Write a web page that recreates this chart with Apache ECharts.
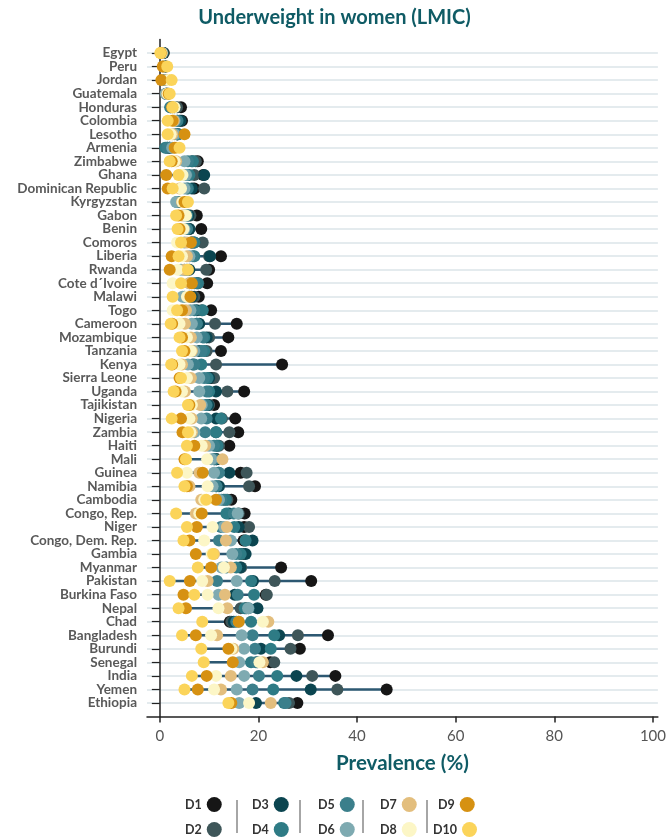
<!DOCTYPE html>
<html>
<head>
<meta charset="utf-8">
<script src="https://cdn.jsdelivr.net/npm/echarts@6/dist/echarts.min.js"></script>
<style>html,body{margin:0;padding:0;background:#fff}#c{width:669px;height:837px}</style>
</head>
<body>
<div id="c"></div>
<script>
const countries = ["Egypt","Peru","Jordan","Guatemala","Honduras","Colombia","Lesotho","Armenia","Zimbabwe","Ghana","Dominican Republic","Kyrgyzstan","Gabon","Benin","Comoros","Liberia","Rwanda","Cote d´Ivoire","Malawi","Togo","Cameroon","Mozambique","Tanzania","Kenya","Sierra Leone","Uganda","Tajikistan","Nigeria","Zambia","Haiti","Mali","Guinea","Namibia","Cambodia","Congo, Rep.","Niger","Congo, Dem. Rep.","Gambia","Myanmar","Pakistan","Burkina Faso","Nepal","Chad","Bangladesh","Burundi","Senegal","India","Yemen","Ethiopia"];
const deciles = ["D1","D2","D3","D4","D5","D6","D7","D8","D9","D10"];
const xTicks = [0,20,40,60,80,100];

const D1  = [0.8,1.2,1.5,1.6,4.3,4.5,3.5,2.0,7.7,8.8,7.0,4.0,7.5,8.4,6.5,12.4,10.0,9.6,7.9,10.4,15.6,13.9,12.4,24.8,10.5,17.1,11.0,15.3,15.9,14.1,11.5,16.4,19.3,14.5,17.2,17.1,17.0,16.5,24.6,30.7,21.5,17.5,14.2,34.1,28.4,22.4,35.6,46.0,27.9];
const D2  = [0.7,1.0,1.5,1.5,3.5,4.0,3.5,2.0,7.3,7.0,9.0,4.0,6.2,6.0,8.7,10.0,9.4,7.8,7.0,8.5,11.2,10.0,9.5,11.4,11.0,13.7,10.0,12.6,14.1,12.0,11.2,17.6,18.1,13.7,16.0,18.1,17.4,17.0,16.5,23.3,21.7,16.4,14.5,28.0,26.5,23.2,30.9,36.0,26.2];
const D3  = [0.6,1.0,1.2,1.3,3.0,4.2,3.6,1.5,6.5,9.0,6.5,3.8,5.8,6.0,7.0,10.2,6.0,7.5,6.5,7.5,8.0,9.5,8.0,6.7,10.0,11.4,9.8,11.4,11.4,11.5,11.5,14.1,12.0,13.0,14.0,16.0,18.8,17.4,16.3,18.9,15.2,19.8,15.0,24.2,20.5,19.8,27.7,30.6,19.5];
const D4  = [0.5,0.9,1.2,1.3,2.1,3.6,3.8,1.1,6.7,6.0,5.7,3.5,5.5,5.5,7.0,7.0,5.5,7.7,6.0,8.7,7.5,9.0,9.0,8.4,9.7,10.0,9.5,12.4,11.4,11.7,11.0,11.9,11.4,13.4,13.5,15.1,17.4,16.4,15.5,18.5,19.1,17.2,18.5,23.2,22.5,18.5,23.8,23.0,25.2];
const D5  = [0.5,0.9,1.0,1.3,2.2,3.5,3.5,1.5,5.7,5.5,5.5,3.5,5.5,5.5,6.5,6.7,5.0,7.0,5.0,7.0,7.5,8.7,8.5,7.0,9.0,9.5,9.4,9.5,9.2,11.0,11.0,12.0,11.5,12.5,15.0,12.4,12.0,15.5,13.5,11.6,15.8,18.0,15.5,18.8,19.3,19.5,20.1,18.8,25.5];
const D6  = [0.4,0.8,1.0,1.2,2.5,3.0,3.0,2.5,5.0,5.3,5.0,3.3,5.0,5.0,5.0,6.0,4.3,6.0,4.6,6.2,6.5,7.5,7.0,5.7,8.0,8.0,8.5,8.4,7.0,10.0,10.5,11.0,10.7,12.0,15.8,13.0,14.4,14.7,12.5,15.6,11.9,17.9,16.0,16.6,17.1,16.1,17.1,15.6,16.1];
const D7  = [0.4,0.8,1.5,1.5,2.8,2.8,2.5,3.3,3.3,4.5,4.0,4.5,4.5,4.5,5.5,5.5,5.0,6.0,5.8,5.3,5.1,6.3,6.5,4.5,6.3,5.1,8.2,6.5,6.5,9.2,12.7,8.0,6.0,8.4,7.3,13.6,13.4,11.0,14.4,9.7,13.2,13.7,22.0,11.6,14.9,20.9,14.4,12.4,22.5];
const D8  = [0.3,0.7,1.8,1.6,3.0,2.5,2.2,3.5,3.0,4.6,4.3,4.6,5.3,4.8,3.5,4.5,3.6,2.6,5.5,2.6,4.0,5.5,6.3,4.0,5.5,4.5,6.5,6.0,6.2,8.5,9.6,5.5,9.7,9.0,8.0,10.7,9.0,10.5,13.0,8.6,9.7,11.9,20.9,10.4,14.5,20.2,11.4,11.0,18.1];
const D9  = [0.2,0.6,0.3,1.8,2.5,2.6,5.0,3.0,2.4,1.3,1.6,5.0,3.8,4.0,6.3,2.4,2.0,6.5,6.2,4.5,2.5,4.5,5.0,2.5,4.0,3.2,6.0,4.3,4.6,7.0,5.0,8.7,5.5,11.4,8.5,7.5,6.0,7.3,10.4,6.1,4.8,5.3,16.0,7.3,13.9,14.8,9.5,7.7,14.5];
const D10 = [0.1,1.5,2.4,2.0,2.6,1.6,1.6,4.0,2.0,3.8,2.6,5.7,3.3,3.6,4.3,3.8,5.7,4.3,2.6,3.5,2.2,4.0,4.5,2.3,4.3,2.8,5.7,2.4,5.7,5.5,5.3,3.5,5.0,9.4,3.3,5.5,4.8,10.8,7.7,2.0,7.0,3.8,8.6,4.5,8.4,8.9,6.5,5.0,13.9];

const values = [D1,D2,D3,D4,D5,D6,D7,D8,D9,D10];
const colors = ["#161616","#3e5659","#0b4550","#2e7b85","#3b7f8b","#7eaab1","#e3be7d","#fcf6c6","#d69112","#fbd45a"];

const yData = [" "].concat(countries).concat(["  "]);
const isReal = v => v.trim() !== "";

const rangeData = countries.map((c, i) => {
  const vs = values.map(a => a[i]);
  return [Math.min(...vs), Math.max(...vs), c];
});

const series = [{
  type: "custom",
  name: "range",
  data: rangeData,
  encode: { x: [0, 1], y: 2 },
  renderItem: function (params, api) {
    const p1 = api.coord([api.value(0), api.value(2)]);
    const p2 = api.coord([api.value(1), api.value(2)]);
    return { type: "line", shape: { x1: p1[0], y1: p1[1], x2: p2[0], y2: p2[1] },
             style: { stroke: "#2d5872", lineWidth: 2.5 } };
  },
  z: 1
}];
deciles.forEach((d, k) => {
  series.push({
    type: "scatter",
    name: d,
    data: values[k].map((v, i) => [v, countries[i]]),
    symbol: "circle",
    symbolSize: 12,
    itemStyle: { color: colors[k], opacity: 1 },
    z: 2 + k
  });
});

const legendPos = [
  [185, 797], [185, 822], [252, 797], [252, 822], [318, 797],
  [318, 822], [380, 797], [380, 822], [438, 797], [433, 822]
];
const legends = deciles.map((d, k) => ({
  data: [d],
  left: legendPos[k][0], top: legendPos[k][1],
  padding: 0,
  align: "right",
  icon: "circle",
  itemWidth: 15, itemHeight: 15,
  selectedMode: false,
  textStyle: { fontFamily: "Lato", fontWeight: "bold", fontSize: 12.5, color: "#333" }
}));

const sepX = [237, 300, 363, 427];
const graphics = sepX.map(x => ({
  type: "line", shape: { x1: x, y1: 800, x2: x, y2: 833 },
  style: { stroke: "#888", lineWidth: 1.5 }
}));

const chart = echarts.init(document.getElementById("c"));
chart.setOption({
  backgroundColor: "#fff",
  animation: false,
  title: {
    text: "Underweight in women (LMIC)",
    left: "center", top: 3,
    textStyle: { fontFamily: "Lato", fontWeight: "bold", fontSize: 20, color: "#0f5b65" }
  },
  grid: { left: 147, right: 9, top: 39.5, bottom: 120.5, containLabel: false },
  xAxis: {
    type: "value", min: -2.6, max: 101,
    name: "Prevalence (%)", nameLocation: "middle", nameGap: 36,
    nameTextStyle: { fontFamily: "Lato", fontWeight: "bold", fontSize: 20.5, color: "#0f5b65" },
    axisLine: { show: true, onZero: false, lineStyle: { color: "#222", width: 1.5 } },
    axisTick: { show: true, length: 6, customValues: xTicks, lineStyle: { color: "#222", width: 1.5 } },
    axisLabel: { fontFamily: "Lato", fontSize: 15, color: "#555", margin: 12, customValues: xTicks },
    splitLine: { show: false }
  },
  yAxis: {
    type: "category", inverse: true, boundaryGap: false, data: yData,
    axisLine: { show: true, lineStyle: { color: "#222", width: 1.5 } },
    axisTick: { show: true, length: 8, inside: false, interval: (i, v) => isReal(v),
                lineStyle: { color: "#222", width: 1.2 } },
    axisLabel: { fontFamily: "Lato", fontWeight: "bold", fontSize: 13.5, color: "#595959", margin: 10,
                 interval: 0 },
    splitLine: { show: true, interval: (i, v) => isReal(v),
                 lineStyle: { color: "#e4ebee", width: 2 } }
  },
  legend: legends,
  graphic: graphics,
  series: series
});
</script>
</body>
</html>
